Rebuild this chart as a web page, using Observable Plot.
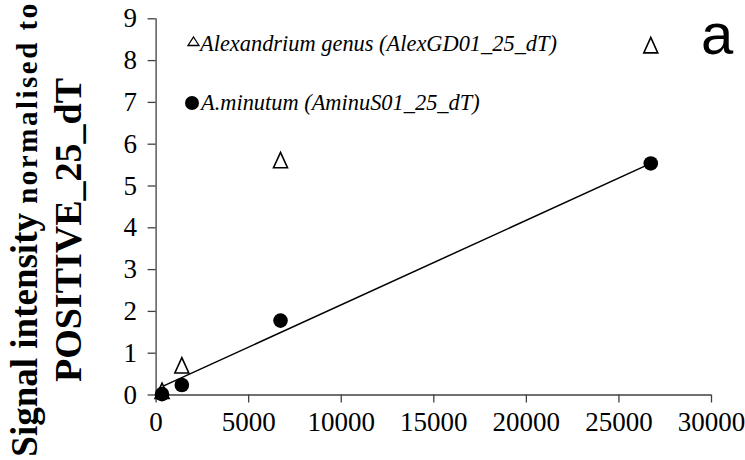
<!DOCTYPE html>
<html>
<head>
<meta charset="utf-8">
<script src="https://cdn.jsdelivr.net/npm/d3@7"></script>
<script src="https://cdn.jsdelivr.net/npm/@observablehq/plot@0.6"></script>
<style>
  html, body { margin: 0; padding: 0; background: #fff; }
  #chart { width: 745px; height: 460px; }
</style>
</head>
<body>
<div id="chart"></div>
<script>
// ---- data ----
const concentration = [320, 1390, 6720, 26720];
const genusSignal = [0.1, 0.71, 5.62, 8.37];      // Alexandrium genus (AlexGD01_25_dT)
const minutumSignal = [0.02, 0.24, 1.78, 5.54];   // A.minutum (AminuS01_25_dT)
const trendX = [320, 26720];
const trendY = [0.2, 5.54];
const xTicks = [0, 5000, 10000, 15000, 20000, 25000, 30000];
const yTicks = [0, 1, 2, 3, 4, 5, 6, 7, 8, 9];
const seriesNames = ["Alexandrium genus (AlexGD01_25_dT)", "A.minutum (AminuS01_25_dT)"];
const titleLine1a = "Signal intensity ";
const titleLine1b = "normalised to";
const titleLine2 = "POSITIVE_25_dT";
const panelLabel = "a";

const genus = concentration.map((x, i) => ({x, y: genusSignal[i]}));
const minutum = concentration.map((x, i) => ({x, y: minutumSignal[i]}));
const trend = trendX.map((x, i) => ({x, y: trendY[i]}));

// isosceles triangle marker (Excel style), centred on its bounding box
const tri = {
  draw(ctx, size) {
    const r = Math.sqrt(size / Math.PI);
    const h = r * 1.1;
    ctx.moveTo(0, -h);
    ctx.lineTo(r, h);
    ctx.lineTo(-r, h);
    ctx.closePath();
  }
};

const serif = "'Liberation Serif', 'Times New Roman', serif";
const axisColor = "#404040";
const plot = Plot.plot({
  width: 745,
  height: 460,
  marginLeft: 155.6,
  marginRight: 34,
  marginTop: 18.3,
  marginBottom: 65.5,
  style: {fontFamily: serif, color: "black", background: "white"},
  x: {domain: [0, 30000]},
  y: {domain: [0, 9]},
  marks: [
    Plot.axisY({ticks: yTicks, tickSize: 8, tickPadding: 11, fontSize: 27, stroke: axisColor, strokeWidth: 1.3, fill: "black", label: null}),
    Plot.axisX({ticks: xTicks, tickSize: 8, tickPadding: 9, fontSize: 27, stroke: axisColor, strokeWidth: 1.3, fill: "black", tickFormat: d => String(d), label: null}),
    Plot.ruleX([0], {stroke: axisColor, strokeWidth: 1.3}),
    Plot.ruleY([0], {stroke: axisColor, strokeWidth: 1.3}),
    Plot.line(trend, {x: "x", y: "y", stroke: "black", strokeWidth: 1.5}),
    Plot.dot(genus, {x: "x", y: "y", symbol: tri, r: 7, fill: "white", stroke: "black", strokeWidth: 1.6}),
    Plot.dot(minutum, {x: "x", y: "y", symbol: "circle", r: 7.3, fill: "black", stroke: "none"})
  ]
});
document.getElementById("chart").appendChild(plot);

const svg = d3.select(plot);
svg.attr("overflow", "visible");

// y-axis title (two lines, rotated)
const t1 = svg.append("text")
  .attr("transform", "translate(37,229) rotate(-90)")
  .attr("text-anchor", "middle")
  .attr("font-family", serif)
  .attr("font-weight", "bold")
  .attr("fill", "black");
t1.append("tspan").attr("font-size", 37).text(titleLine1a);
t1.append("tspan").attr("font-size", 29).attr("letter-spacing", 2.5).text(titleLine1b);

svg.append("text")
  .attr("transform", "translate(81,230) rotate(-90)")
  .attr("text-anchor", "middle")
  .attr("font-family", serif)
  .attr("font-weight", "bold")
  .attr("font-size", 38)
  .attr("fill", "black")
  .text(titleLine2);

// legend
const lg = svg.append("g")
  .attr("font-family", serif)
  .attr("font-style", "italic")
  .attr("font-size", 22.4)
  .attr("text-anchor", "start")
  .attr("fill", "black");
lg.append("path")
  .attr("d", "M193.5,37 L199,45.5 L188,45.5 Z")
  .attr("fill", "white").attr("stroke", "black").attr("stroke-width", 1.3);
lg.append("text").attr("x", 200).attr("y", 50.5).text(seriesNames[0]);
lg.append("circle").attr("cx", 192).attr("cy", 103).attr("r", 7).attr("fill", "black");
lg.append("text").attr("x", 201).attr("y", 110).text(seriesNames[1]);

// panel label
svg.append("text")
  .attr("x", 701).attr("y", 54)
  .attr("text-anchor", "start")
  .attr("font-family", "'Liberation Sans', Arial, sans-serif")
  .attr("font-size", 58)
  .attr("fill", "black")
  .text(panelLabel);
</script>
</body>
</html>
